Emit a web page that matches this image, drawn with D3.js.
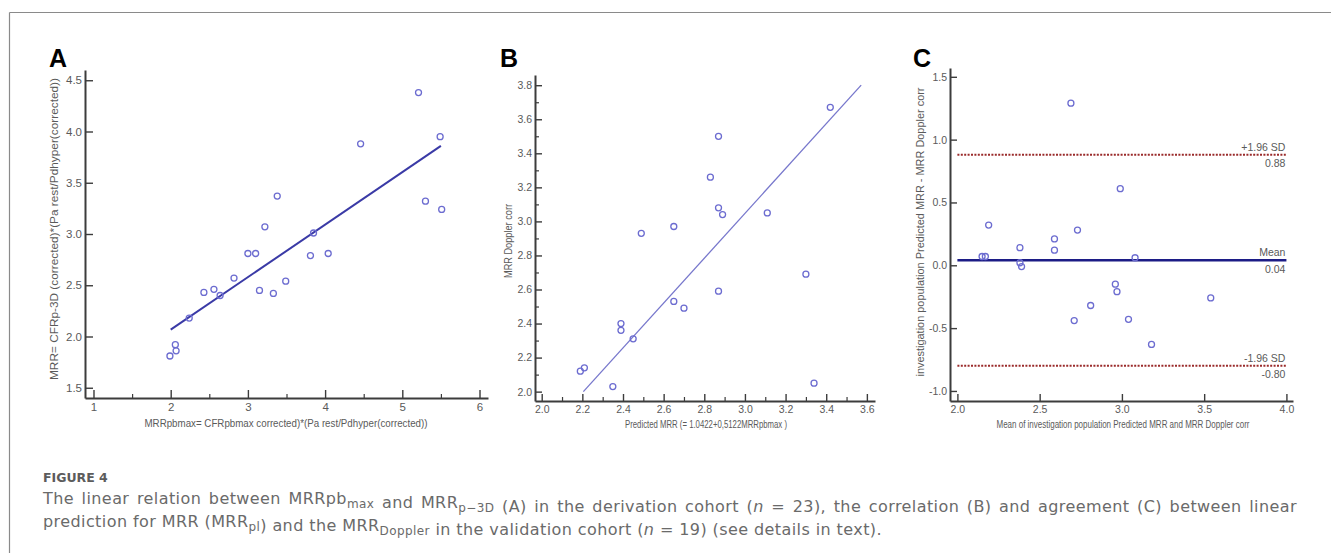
<!DOCTYPE html>
<html>
<head>
<meta charset="utf-8">
<script src="https://cdn.jsdelivr.net/npm/d3@7/dist/d3.min.js"></script>
<style>
html,body{margin:0;padding:0;background:#fff;}
svg{display:block;}
</style>
</head>
<body>
<svg id="chart" width="1331" height="553"></svg>
<script>
// ---------------- DATA ----------------
// Panel A: derivation cohort (n = 23)
const aX = [5.21,5.49,4.46,5.30,5.51,3.38,3.22,3.85,3.00,3.10,3.81,4.04,2.82,3.49,3.15,3.33,2.43,2.56,2.64,2.24,2.06,2.07,1.99];
const aY = [4.38,3.95,3.88,3.32,3.24,3.37,3.07,3.01,2.81,2.81,2.79,2.81,2.57,2.54,2.45,2.42,2.43,2.46,2.40,2.18,1.92,1.86,1.81];
const aFitX = [2.0, 5.5];
const aIntercept = 1.0422, aSlope = 0.5122;
const aXTicks = [1,2,3,4,5,6];
const aXMinor = [1.5,2.5,3.5,4.5,5.5];
const aYTicks = [1.5,2.0,2.5,3.0,3.5,4.0,4.5];

// Panel B: validation cohort correlation (n = 19)
const bX = [3.42,2.87,2.83,2.87,2.89,3.11,2.65,2.49,3.30,2.87,2.65,2.70,2.39,2.39,2.45,2.21,2.19,2.35,3.34];
const bY = [3.67,3.50,3.26,3.08,3.04,3.05,2.97,2.93,2.69,2.59,2.53,2.49,2.40,2.36,2.31,2.14,2.12,2.03,2.05];
const bFitX = [2.205, 3.572];
const bIntercept = -0.904, bSlope = 1.317;
const bXTicks = [2.0,2.2,2.4,2.6,2.8,3.0,3.2,3.4,3.6];
const bXMinor = [2.1,2.3,2.5,2.7,2.9,3.1,3.3,3.5];
const bYTicks = [2.0,2.2,2.4,2.6,2.8,3.0,3.2,3.4,3.6,3.8];
const bYMinor = [2.1,2.3,2.5,2.7,2.9,3.1,3.3,3.5,3.7];

// Panel C: Bland-Altman agreement (n = 19)
const cX = [2.69,2.99,2.19,2.73,2.59,2.38,2.59,2.15,2.17,3.08,2.38,2.39,2.96,2.97,3.54,2.81,2.71,3.04,3.18];
const cY = [1.29,0.61,0.32,0.28,0.21,0.14,0.12,0.07,0.07,0.06,0.02,-0.01,-0.15,-0.21,-0.26,-0.32,-0.44,-0.43,-0.63];
const cLineSpan = [2.0, 4.0];
const cRefValues = [0.88, 0.04, -0.80];
const cRefTop = ["+1.96 SD", "Mean", "-1.96 SD"];
const cRefBottom = ["0.88", "0.04", "-0.80"];
const cXTicks = [2.0,2.5,3.0,3.5,4.0];
const cYTicks = [-1.0,-0.5,0.0,0.5,1.0,1.5];

// ---------------- DRAWING ----------------
const svg = d3.select("#chart");
const NARROW = "'Liberation Sans Narrow','Arial Narrow','Liberation Sans',Arial,sans-serif";
const AXIS_COL = "#3c3c3c";
const LABEL_COL = "#5a5a5a";
const PT_COL = "#6c6cd0";
const fmt1 = v => d3.format(".1f")(v).replace("\u2212","-");

// Figure frame
svg.append("line").attr("x1",9.5).attr("x2",1331).attr("y1",12.5).attr("y2",12.5).attr("stroke","#8a8a8a").attr("stroke-width",1.2);
svg.append("line").attr("x1",9.5).attr("x2",9.5).attr("y1",12.5).attr("y2",553).attr("stroke","#8a8a8a").attr("stroke-width",1.2);

function styleAxis(g, fs){
  g.attr("font-family", NARROW).attr("font-size", fs);
  g.select(".domain").attr("stroke", AXIS_COL).attr("stroke-width", 2);
  g.selectAll(".tick line").attr("stroke", AXIS_COL).attr("stroke-width", 1.4);
  g.selectAll(".tick text").attr("fill", LABEL_COL);
}
function minorAxis(g){
  g.select(".domain").remove();
  g.selectAll(".tick line").attr("stroke", AXIS_COL).attr("stroke-width", 1.2);
}
function panelLetter(x, y, t){
  svg.append("text").attr("x",x).attr("y",y).text(t)
    .attr("font-family","'Liberation Sans',Arial,sans-serif").attr("font-weight","bold")
    .attr("font-size",25).attr("fill","#000");
}
function hTitle(cx, y, len, t, fs){
  svg.append("text").attr("x",cx).attr("y",y).attr("text-anchor","middle")
    .attr("font-family",NARROW).attr("font-size",fs).attr("fill",LABEL_COL)
    .attr("textLength",len).attr("lengthAdjust","spacingAndGlyphs").text(t);
}
function vTitle(x, cy, len, t, fs){
  svg.append("text").attr("transform",`translate(${x},${cy}) rotate(-90)`).attr("text-anchor","middle")
    .attr("font-family",NARROW).attr("font-size",fs).attr("fill",LABEL_COL)
    .attr("textLength",len).attr("lengthAdjust","spacingAndGlyphs").text(t);
}
function points(xs, ys, x, y){
  svg.append("g").selectAll("circle").data(xs.map((d,i)=>[d, ys[i]])).join("circle")
    .attr("cx", d=>x(d[0])).attr("cy", d=>y(d[1])).attr("r", 3)
    .attr("fill","none").attr("stroke", PT_COL).attr("stroke-width", 1.3);
}

// ---- Panel A ----
{
  const x = d3.scaleLinear().domain([0.89, 6.11]).range([85, 488]);
  const y = d3.scaleLinear().domain([1.40, 4.60]).range([398, 70]);
  const line = d3.line().x(d=>x(d)).y(d=>y(aIntercept + aSlope*d));
  svg.append("path").attr("d", line(aFitX)).attr("fill","none").attr("stroke","#3a3aa6").attr("stroke-width",2);
  points(aX, aY, x, y);
  svg.append("g").attr("transform","translate(0,398)")
    .call(d3.axisBottom(x).tickValues(aXMinor).tickSize(-4).tickFormat("")).call(minorAxis);
  svg.append("g").attr("transform","translate(0,398)")
    .call(d3.axisBottom(x).tickValues(aXTicks).tickSizeInner(-8).tickSizeOuter(0).tickPadding(5).tickFormat(d3.format("d")))
    .call(g=>styleAxis(g,11.5));
  svg.append("g").attr("transform","translate(85,0)")
    .call(d3.axisLeft(y).tickValues(aYTicks).tickSizeInner(-8).tickSizeOuter(0).tickPadding(3).tickFormat(fmt1))
    .call(g=>styleAxis(g,11.5));
  panelLetter(49, 67, "A");
  hTitle(286, 427, 283, "MRRpbmax= CFRpbmax corrected)*(Pa rest/Pdhyper(corrected))", 11);
  vTitle(58, 229, 302, "MRR= CFRp-3D  (corrected)*(Pa rest/Pdhyper(corrected))", 11);
}

// ---- Panel B ----
{
  const x = d3.scaleLinear().domain([1.967, 3.64]).range([535, 875]);
  const y = d3.scaleLinear().domain([1.945, 3.86]).range([401, 75]);
  const line = d3.line().x(d=>x(d)).y(d=>y(bIntercept + bSlope*d));
  svg.append("path").attr("d", line(bFitX)).attr("fill","none").attr("stroke","#7777cc").attr("stroke-width",1.3);
  points(bX, bY, x, y);
  svg.append("g").attr("transform","translate(0,401)")
    .call(d3.axisBottom(x).tickValues(bXMinor).tickSize(-4).tickFormat("")).call(minorAxis);
  svg.append("g").attr("transform","translate(535,0)")
    .call(d3.axisLeft(y).tickValues(bYMinor).tickSize(-4).tickFormat("")).call(minorAxis);
  svg.append("g").attr("transform","translate(0,401)")
    .call(d3.axisBottom(x).tickValues(bXTicks).tickSizeInner(-7).tickSizeOuter(0).tickPadding(5).tickFormat(fmt1))
    .call(g=>styleAxis(g,10.5));
  svg.append("g").attr("transform","translate(535,0)")
    .call(d3.axisLeft(y).tickValues(bYTicks).tickSizeInner(-7).tickSizeOuter(0).tickPadding(3).tickFormat(fmt1))
    .call(g=>styleAxis(g,10.5));
  panelLetter(500, 67, "B");
  hTitle(706, 428, 162, "Predicted MRR (= 1.0422+0,5122MRRpbmax )", 10.5);
  vTitle(512, 241, 74, "MRR  Doppler corr", 10.5);
}

// ---- Panel C ----
{
  const x = d3.scaleLinear().domain([1.955, 4.04]).range([950, 1293]);
  const y = d3.scaleLinear().domain([-1.08, 1.57]).range([401, 68]);
  const refCols = ["#9a2b2b", "#1c1c86", "#9a2b2b"];
  cRefValues.forEach((v,i)=>{
    const isMean = i===1;
    svg.append("line").attr("x1", x(cLineSpan[0])).attr("x2", x(cLineSpan[1]))
      .attr("y1", y(v)).attr("y2", y(v)).attr("stroke", refCols[i])
      .attr("stroke-width", isMean ? 2.6 : 2).attr("stroke-dasharray", isMean ? null : "2,1.4");
    svg.append("text").attr("x", x(cLineSpan[1])-1).attr("y", y(v)-4).attr("text-anchor","end")
      .attr("font-family",NARROW).attr("font-size",10.5).attr("fill",LABEL_COL).text(cRefTop[i]);
    svg.append("text").attr("x", x(cLineSpan[1])-1).attr("y", y(v)+12.5).attr("text-anchor","end")
      .attr("font-family",NARROW).attr("font-size",10.5).attr("fill",LABEL_COL).text(cRefBottom[i]);
  });
  points(cX, cY, x, y);
  svg.append("g").attr("transform","translate(0,401)")
    .call(d3.axisBottom(x).tickValues(cXTicks).tickSizeInner(-7).tickSizeOuter(0).tickPadding(5).tickFormat(fmt1))
    .call(g=>styleAxis(g,10.5));
  svg.append("g").attr("transform","translate(950,0)")
    .call(d3.axisLeft(y).tickValues(cYTicks).tickSizeInner(-7).tickSizeOuter(0).tickPadding(3).tickFormat(fmt1))
    .call(g=>styleAxis(g,10.5));
  panelLetter(913, 67, "C");
  hTitle(1123, 428, 253, "Mean of investigation population Predicted MRR  and MRR Doppler corr", 10.5);
  vTitle(924, 232, 289, "investigation population Predicted MRR - MRR Doppler corr", 10.5);
}

// ---------------- CAPTION ----------------
const CAP_FONT = "'DejaVu Sans','Noto Sans',sans-serif";
svg.append("text").attr("x",43).attr("y",482).text("FIGURE 4")
  .attr("font-family",CAP_FONT).attr("font-weight","bold").attr("font-size",12.5).attr("fill","#5c5c5c");

function captionLine(y, parts){
  const t = svg.append("text").attr("x",43).attr("y",y)
    .attr("font-family",CAP_FONT).attr("font-size",16).attr("fill","#6a6a6a");
  parts.forEach(p=>{
    if (p.sub){
      t.append("tspan").attr("dy",4).attr("font-size",12).text(p.sub);
      t.append("tspan").attr("dy",-4).text("");
    } else if (p.i){
      t.append("tspan").attr("font-style","italic").text(p.i);
    } else {
      t.append("tspan").text(p.t);
    }
  });
  return t;
}
const l1 = captionLine(504, [
  {t:"The linear relation between MRRpb"},{sub:"max"},{t:" and MRR"},{sub:"p\u22123D"},
  {t:" (A) in the derivation cohort ("},{i:"n"},{t:" = 23), the correlation (B) and agreement (C) between linear"}
]);
const l2 = captionLine(527, [
  {t:"prediction for MRR (MRR"},{sub:"pl"},{t:") and the MRR"},{sub:"Doppler"},
  {t:" in the validation cohort ("},{i:"n"},{t:" = 19) (see details in text)."}
]);
// fit the caption to the reference text block: line 2 natural width, line 1 justified
{
  const n2 = l2.node().getComputedTextLength();
  const c2 = l2.text().length;
  const ls = Math.max(0, (839 - n2) / c2);
  l1.attr("letter-spacing", ls); l2.attr("letter-spacing", ls);
  const natural = l1.node().getComputedTextLength();
  const spaces = (l1.text().match(/ /g) || []).length;
  if (spaces > 0) l1.attr("word-spacing", Math.max(0,(1254 - natural) / spaces));
}
</script>
</body>
</html>
